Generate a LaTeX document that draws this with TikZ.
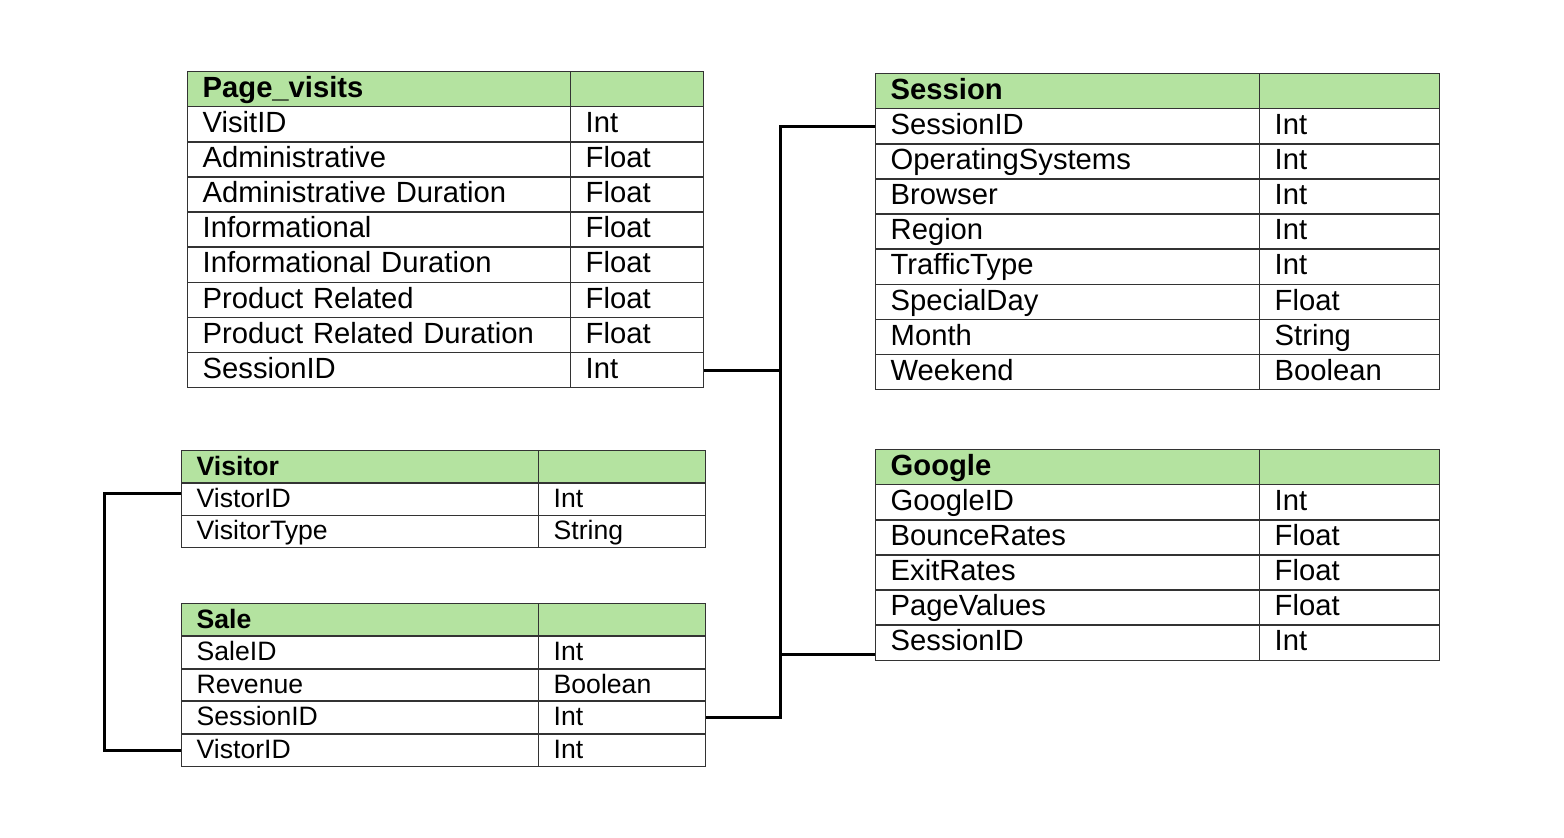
\documentclass[tikz,border=0pt]{standalone}
\usepackage{fontspec}
\setmainfont{Liberation Sans}
\usetikzlibrary{positioning}
\definecolor{hdrgreen}{RGB}{180,227,160}

\begin{document}
\begin{tikzpicture}[x=0.5pt, y=-0.5pt,
    % Styles
    cell/.style={draw=black!80, line width=0.7pt, anchor=north west, align=left, inner xsep=7.5pt, inner ysep=0pt, text height=1.7ex, text depth=0.15ex},
    bigcell/.style={cell, font=\fontsize{14.6}{16}\selectfont, minimum height=17.55pt},
    smallcell/.style={cell, font=\fontsize{13.3}{15}\selectfont, minimum height=16.15pt},
    header/.style={fill=hdrgreen, execute at begin node={\bfseries}},
    link/.style={draw=black, line width=1.5pt},
]
\useasboundingbox (0,0) rectangle (1564,838);

% Page_visits table
\node[bigcell, header, text width=176.5pt] (pv-h) at (187,71) {Page\_visits};
\node[bigcell, header, text width=51.5pt] (pv-hx) at (570,71) {};
\foreach \fname/\ftype [count=\i] in {VisitID/Int, Administrative/Float, Administrative Duration/Float, Informational/Float, Informational Duration/Float, Product Related/Float, Product Related Duration/Float, SessionID/Int}{
    \node[bigcell, text width=176.5pt] (pv-n\i) at (187, {71+35.1*\i}) {\fname};
    \node[bigcell, text width=51.5pt] (pv-t\i) at (570, {71+35.1*\i}) {\ftype};
}

% Session table
\node[bigcell, header, text width=177pt] (ses-h) at (875,73) {Session};
\node[bigcell, header, text width=75pt] (ses-hx) at (1259,73) {};
\foreach \fname/\ftype [count=\i] in {SessionID/Int, OperatingSystems/Int, Browser/Int, Region/Int, TrafficType/Int, SpecialDay/Float, Month/String, Weekend/Boolean}{
    \node[bigcell, text width=177pt] (ses-n\i) at (875, {73+35.1*\i}) {\fname};
    \node[bigcell, text width=75pt] (ses-t\i) at (1259, {73+35.1*\i}) {\ftype};
}

% Google table
\node[bigcell, header, text width=177pt] (goo-h) at (875,449) {Google};
\node[bigcell, header, text width=75pt] (goo-hx) at (1259,449) {};
\foreach \fname/\ftype [count=\i] in {GoogleID/Int, BounceRates/Float, ExitRates/Float, PageValues/Float, SessionID/Int}{
    \node[bigcell, text width=177pt] (goo-n\i) at (875, {449+35.1*\i}) {\fname};
    \node[bigcell, text width=75pt] (goo-t\i) at (1259, {449+35.1*\i}) {\ftype};
}

% Visitor table
\node[smallcell, header, text width=163.5pt] (vis-h) at (181,450) {Visitor};
\node[smallcell, header, text width=68.5pt] (vis-hx) at (538,450) {};
\foreach \fname/\ftype [count=\i] in {VistorID/Int, VisitorType/String}{
    \node[smallcell, text width=163.5pt] (vis-n\i) at (181, {450+32.3*\i}) {\fname};
    \node[smallcell, text width=68.5pt] (vis-t\i) at (538, {450+32.3*\i}) {\ftype};
}

% Sale table
\node[smallcell, header, text width=163.5pt] (sale-h) at (181,603) {Sale};
\node[smallcell, header, text width=68.5pt] (sale-hx) at (538,603) {};
\foreach \fname/\ftype [count=\i] in {SaleID/Int, Revenue/Boolean, SessionID/Int, VistorID/Int}{
    \node[smallcell, text width=163.5pt] (sale-n\i) at (181, {603+32.6*\i}) {\fname};
    \node[smallcell, text width=68.5pt] (sale-t\i) at (538, {603+32.6*\i}) {\ftype};
}

% Links
\coordinate (bus) at (780,0);
\coordinate (goo-link) at ([yshift=-6pt]goo-n5.west);
\coordinate (vis-link) at ([yshift=3pt]vis-n1.west);
\draw[link] (ses-n1.west) -- (ses-n1.west -| bus) |- (sale-t3.east);
\draw[link] (pv-t8.east) -- (pv-t8.east -| bus);
\draw[link] (goo-link) -- (goo-link -| bus);
\draw[link] (vis-link) -- ++(-77,0) |- (sale-n4.west);

\end{tikzpicture}
\end{document}
